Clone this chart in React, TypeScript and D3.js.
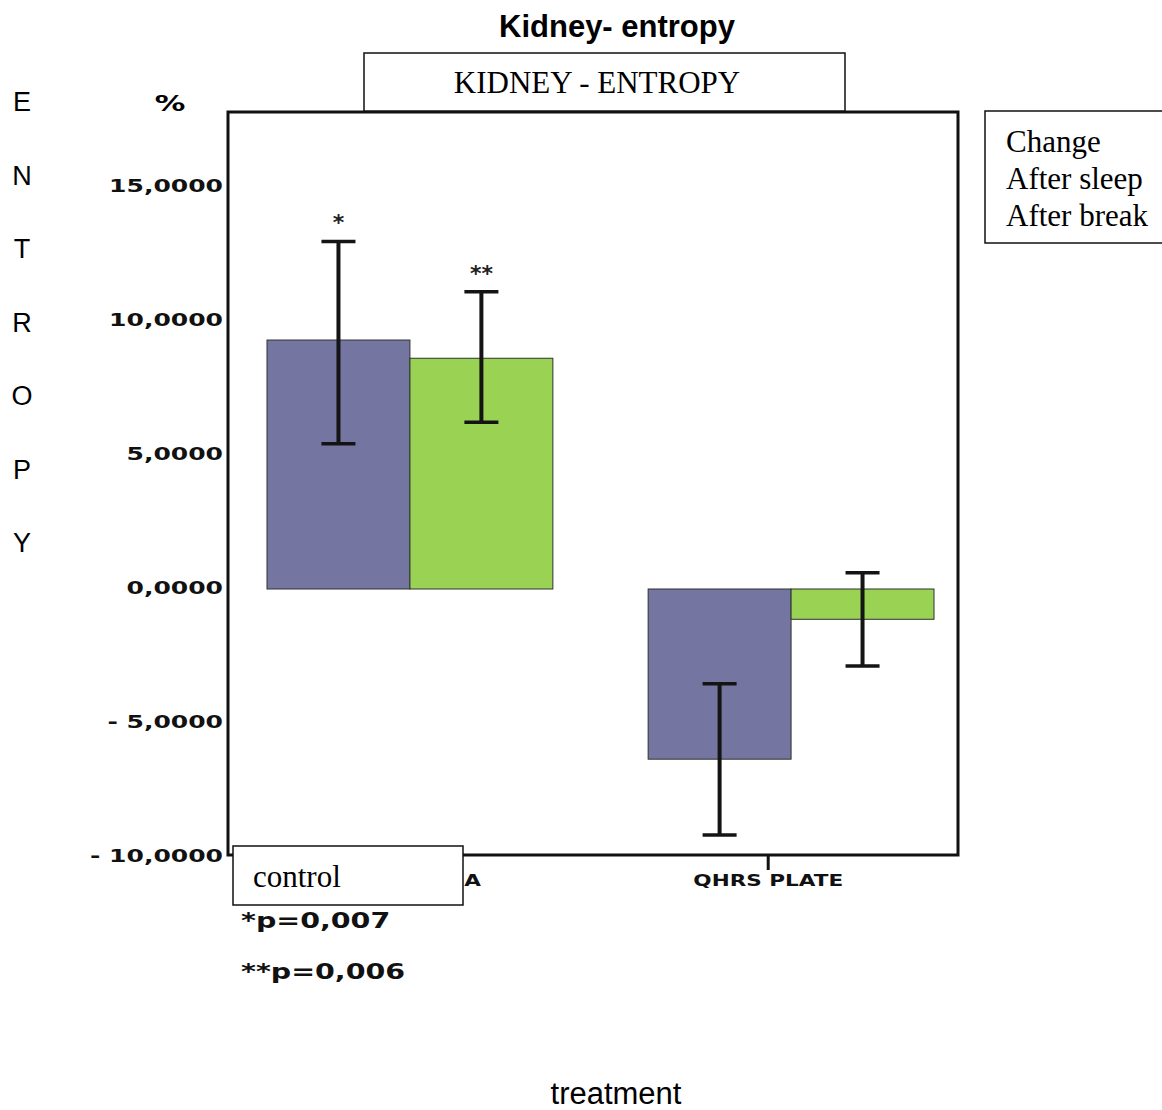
// Kidney entropy - grouped bars with error bars (D3 scales, JSX render)

import * as d3 from "d3";

const categories = ["CONTROL AREA", "QHRS PLATE"];
const seriesNames = ["After sleep", "After break"];
const legendTitle = "Change";

const afterSleep = [9.29, -6.35];
const afterBreak = [8.61, -1.13];
const sleepLow = [5.42, -9.18];
const sleepHigh = [12.97, -3.54];
const breakLow = [6.22, -2.87];
const breakHigh = [11.09, 0.61];

const marks = [
  ["*", "**"],
  ["", ""],
];
const notes = ["*p=0,007", "**p=0,006"];
const yTicks = [-10, -5, 0, 5, 10, 15];
const axisLetters = ["E", "N", "T", "R", "O", "P", "Y"];

const colors = ["#7475a1", "#9ad254"];
const W = 1162;
const H = 1110;
const STRETCH = 1.39;

const fmt = (v: number) => {
  const s = Math.abs(v).toFixed(4).replace(".", ",");
  return v < 0 ? "- " + s : s;
};

export default function App() {
  const y = d3.scaleLinear().domain([-10, 15]).range([857, 187]);
  const x = d3
    .scaleBand<string>()
    .domain(categories)
    .range([267, 934])
    .paddingInner(0.25)
    .paddingOuter(0);
  const xs = d3
    .scaleBand<string>()
    .domain(seriesNames)
    .range([0, x.bandwidth()]);

  const values = [afterSleep, afterBreak];
  const lows = [sleepLow, breakLow];
  const highs = [sleepHigh, breakHigh];

  const frame = { x: 228, y: 112, w: 730, h: 743 };
  const wide = "'DejaVu Sans', sans-serif";
  const serif = "'Liberation Serif', 'Times New Roman', serif";
  const sans = "'Liberation Sans', Arial, sans-serif";

  return (
    <svg
      width={W}
      height={H}
      style={{ position: "absolute", left: 0, top: 0, background: "#fff" }}
    >
      {/* title */}
      <text x={617} y={37} textAnchor="middle" fontFamily={sans} fontWeight="bold" fontSize={31}>
        Kidney- entropy
      </text>

      {/* vertical axis title */}
      {axisLetters.map((l, i) => (
        <text key={i} x={22} y={111 + i * 73.5} textAnchor="middle" fontFamily={sans} fontSize={27}>
          {l}
        </text>
      ))}

      <g transform={`translate(170,111) scale(${STRETCH},1)`}>
        <text textAnchor="middle" fontFamily={wide} fontWeight="bold" fontSize={22}>%</text>
      </g>

      {/* y tick labels */}
      {yTicks.map((t) => (
        <g key={t} transform={`translate(223,${y(t) + 5}) scale(${STRETCH},1)`}>
          <text textAnchor="end" fontFamily={wide} fontWeight="bold" fontSize={18} fill="#111">
            {fmt(t)}
          </text>
        </g>
      ))}

      {/* plot frame */}
      <rect x={frame.x} y={frame.y} width={frame.w} height={frame.h} fill="none" stroke="#111" strokeWidth={3} />

      {/* bars */}
      {categories.map((c, ci) =>
        seriesNames.map((s, si) => {
          const v = values[si][ci];
          const x0 = (x(c) ?? 0) + (xs(s) ?? 0);
          return (
            <rect
              key={c + s}
              x={x0}
              y={y(Math.max(0, v))}
              width={xs.bandwidth()}
              height={Math.abs(y(v) - y(0))}
              fill={colors[si]}
              stroke="#2d3330"
              strokeWidth={1}
            />
          );
        })
      )}

      {/* error bars */}
      {categories.map((c, ci) =>
        seriesNames.map((s, si) => {
          const cx = (x(c) ?? 0) + (xs(s) ?? 0) + xs.bandwidth() / 2;
          const top = y(highs[si][ci]);
          const bot = y(lows[si][ci]);
          return (
            <g key={"e" + c + s} stroke="#141414">
              <line x1={cx} x2={cx} y1={top} y2={bot} strokeWidth={4} />
              <line x1={cx - 17} x2={cx + 17} y1={top} y2={top} strokeWidth={3.5} />
              <line x1={cx - 17} x2={cx + 17} y1={bot} y2={bot} strokeWidth={3.5} />
              {marks[ci][si] && (
                <text
                  x={cx}
                  y={top - 11}
                  textAnchor="middle"
                  fontFamily={wide}
                  fontWeight="bold"
                  fontSize={22}
                  fill="#222"
                  stroke="none"
                >
                  {marks[ci][si]}
                </text>
              )}
            </g>
          );
        })
      )}

      {/* category ticks and labels */}
      {categories.map((c) => {
        const tx = (x(c) ?? 0) + x.bandwidth() * 0.42;
        return (
          <g key={"t" + c}>
            <line x1={tx} x2={tx} y1={855} y2={870} stroke="#111" strokeWidth={3} />
            <g transform={`translate(${tx},886) scale(${STRETCH},1)`}>
              <text textAnchor="middle" fontFamily={wide} fontWeight="bold" fontSize={15.5} fill="#111">
                {c}
              </text>
            </g>
          </g>
        );
      })}

      {/* header box */}
      <rect x={364} y={53} width={481} height={58} fill="#fff" stroke="#111" strokeWidth={1.5} />
      <text x={597} y={93} textAnchor="middle" fontFamily={serif} fontSize={31}>
        KIDNEY - ENTROPY
      </text>

      {/* legend box */}
      <rect x={985} y={111} width={200} height={132} fill="#fff" stroke="#111" strokeWidth={1.5} />
      {[legendTitle, ...seriesNames].map((t, i) => (
        <text key={t} x={1006} y={152 + i * 37} fontFamily={serif} fontSize={31}>
          {t}
        </text>
      ))}

      {/* control box */}
      <rect x={233} y={846} width={230} height={59} fill="#fff" stroke="#111" strokeWidth={1.5} />
      <text x={253} y={887} fontFamily={serif} fontSize={31}>
        control
      </text>

      {/* significance notes */}
      {notes.map((n, i) => (
        <g key={n} transform={`translate(241,${928 + i * 50.5}) scale(${STRETCH},1)`}>
          <text fontFamily={wide} fontWeight="bold" fontSize={20.5} fill="#111">
            {n}
          </text>
        </g>
      ))}

      {/* x axis title */}
      <text x={616} y={1104} textAnchor="middle" fontFamily={sans} fontSize={31}>
        treatment
      </text>
    </svg>
  );
}
